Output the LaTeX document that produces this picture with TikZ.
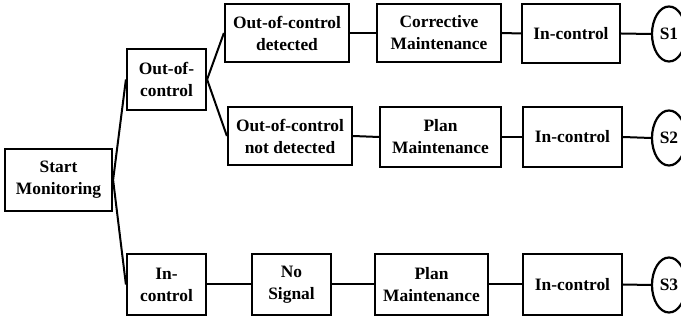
\documentclass[tikz,border=0pt]{standalone}
\usepackage{fontspec}
\setmainfont{Liberation Serif}
\usetikzlibrary{shapes.geometric}
\tikzset{
  box/.style={draw, line width=2.2pt, inner sep=0pt, align=center,
    font=\bfseries\fontsize{17.4}{22}\selectfont},
  oval/.style={draw, ellipse, line width=2.2pt, inner sep=0pt,
    minimum width=34pt, minimum height=55pt,
    font=\bfseries\fontsize{17.4}{22}\selectfont},
  conn/.style={line width=2pt}
}
\begin{document}
\begin{tikzpicture}[x=1pt,y=-1pt]
\useasboundingbox[fill=white] (0,0) rectangle (681,320);
% column 1
\node[box, minimum width=107pt, minimum height=62pt] (start) at (58.5,180) {Start\\Monitoring};
% row 1/2 branch
\node[box, minimum width=79pt, minimum height=61pt] (ooc) at (166.5,79.5) {Out-of-\\control};
\node[box, minimum width=124pt, minimum height=58pt] (oocd) at (287,33) {Out-of-control\\detected};
\node[box, minimum width=124pt, minimum height=58pt] (oocnd) at (290,136) {Out-of-control\\not detected};
\node[box, minimum width=124pt, minimum height=58pt] (cm) at (439,33) {Corrective\\Maintenance};
\node[box, minimum width=98pt, minimum height=59pt] (ic1) at (571,33.5) {In-control};
\node[oval] (s1) at (669,34) {S1};
\node[box, minimum width=121pt, minimum height=60pt] (pm2) at (440.5,137) {Plan\\Maintenance};
\node[box, minimum width=99pt, minimum height=60pt] (ic2) at (572.5,137) {In-control};
\node[oval] (s2) at (669,138) {S2};
% row 3
\node[box, minimum width=79pt, minimum height=61pt] (ic3) at (166.5,284.5) {In-\\control};
\node[box, minimum width=79pt, minimum height=61pt] (ns) at (291.5,284.5) {No\\Signal};
\node[box, minimum width=113pt, minimum height=61pt] (pm3) at (431.5,284.5) {Plan\\Maintenance};
\node[box, minimum width=99pt, minimum height=61pt] (ic4) at (572.5,284.5) {In-control};
\node[oval] (s3) at (669,285) {S3};
% connectors
\draw[conn] (start.east) -- (ooc.west);
\draw[conn] (start.east) -- (ic3.west);
\draw[conn] (ooc.east) -- (oocd.west);
\draw[conn] (ooc.east) -- (oocnd.west);
\draw[conn] (oocd.east) -- (cm.west);
\draw[conn] (cm.east) -- (ic1.west);
\draw[conn] (ic1.east) -- (s1.west);
\draw[conn] (oocnd.east) -- (pm2.west);
\draw[conn] (pm2.east) -- (ic2.west);
\draw[conn] (ic2.east) -- (s2.west);
\draw[conn] (ic3.east) -- (ns.west);
\draw[conn] (ns.east) -- (pm3.west);
\draw[conn] (pm3.east) -- (ic4.west);
\draw[conn] (ic4.east) -- (s3.west);
\end{tikzpicture}
\end{document}
